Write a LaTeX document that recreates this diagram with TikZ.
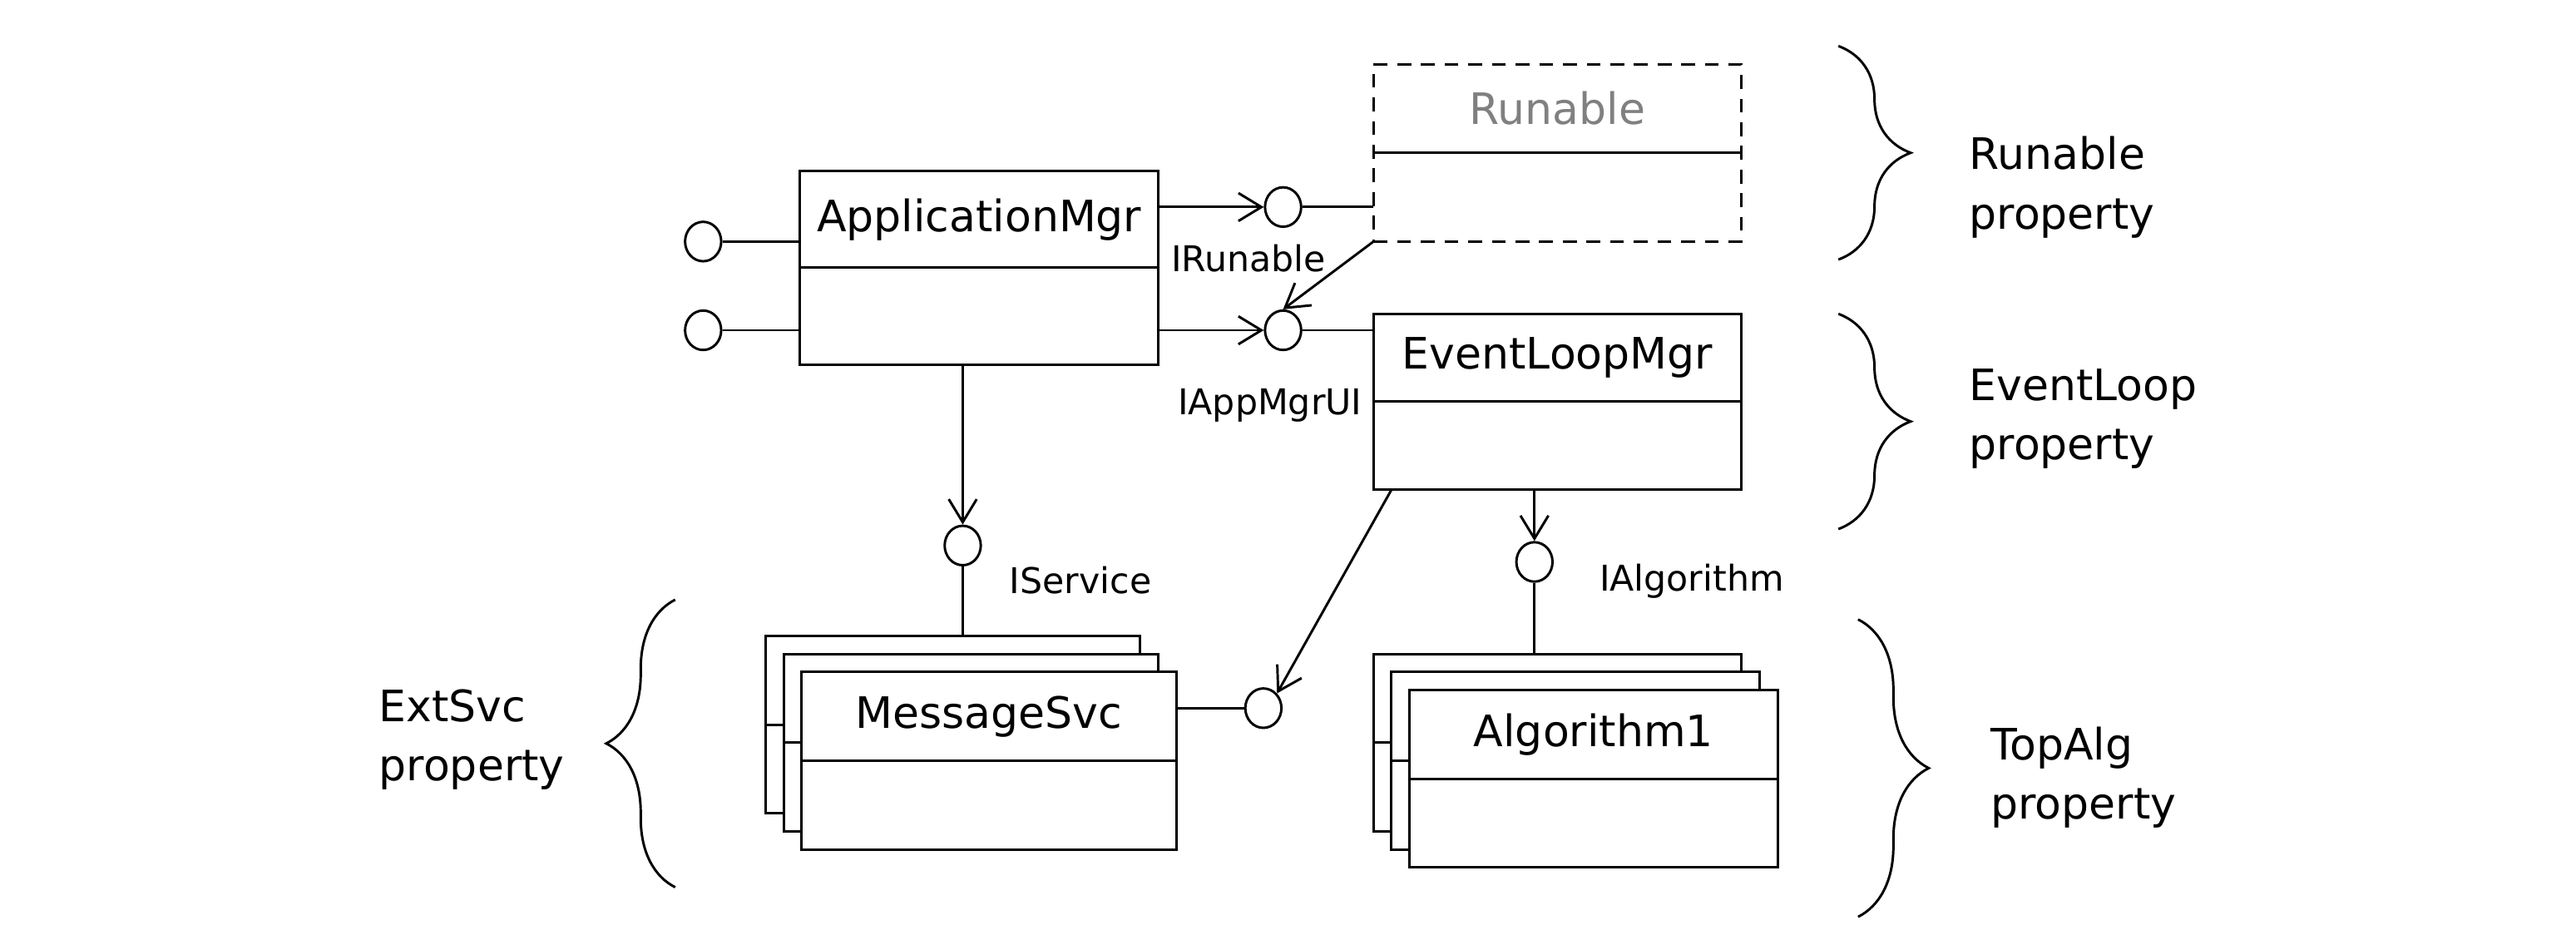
\documentclass[tikz,border=0pt]{standalone}
\usepackage{fontspec}
\setmainfont{DejaVu Sans}
\usetikzlibrary{positioning,calc,arrows.meta,shapes.geometric,decorations.pathreplacing}

\def\px{0.02cm}
\def\klasse#1#2#3#4#5#6#7{
\node[kasten,#1,minimum width=#5*\px,minimum height=#6*\px,anchor=north west]
	(#2) at (#3,#4) {};
\draw (#2.west) -- (#2.east);
\node (#2-t) at ($(#2.north)!0.5!(#2.center)$) {#7};
}

\begin{document}
\begin{tikzpicture}[x=\px,y=-\px,line width=0.85pt,
	>={Straight Barb[length=2.8mm,width=3.4mm]},
	font=\fontsize{15}{20.5}\selectfont,
	kasten/.style={draw,fill=white,inner sep=0pt,outer sep=0pt},
	lolli/.style={draw,fill=white,ellipse,inner sep=0pt,
		minimum width=22*\px,minimum height=24*\px},
	schild/.style={font=\fontsize{12.3}{14}\selectfont},
	eigen/.style={align=left,anchor=west,inner sep=0pt},
	klammer/.style={decorate,decoration={brace,amplitude=#1}}]
\useasboundingbox (0,0) rectangle (1568,569);
\klasse{}{app}{487}{104}{218}{118}{ApplicationMgr}
\klasse{dashed,dash pattern=on 4.8pt off 3.4pt}{run}{836}{39}{224}{108}{\color{gray}Runable}
\klasse{}{elm}{836}{191}{224}{107}{EventLoopMgr}
\klasse{}{msg3}{466}{387}{228}{108}{}
\klasse{}{msg2}{477}{398}{228}{108}{}
\klasse{}{msg1}{488}{409}{228}{108}{MessageSvc}
\klasse{}{alg3}{836}{398}{224}{108}{}
\klasse{}{alg2}{847}{409}{224}{108}{}
\klasse{}{alg1}{858}{420}{224}{108}{Algorithm1}

\node[lolli] (l1) at (428,147) {};
\node[lolli] (l2) at (428,201) {};
\node[lolli] (irun) at (781,126) {};
\node[lolli] (iapp) at (781,201) {};
\node[lolli] (iser) at (586,332) {};
\node[lolli] (ialg) at (934,342) {};
\node[lolli] (imsg) at (769,431) {};

\draw (l1) -- (l1 -| app.west);
\draw (l2) -- (l2 -| app.west);
\draw[->] (irun -| app.east) -- (irun);
\draw (irun) -- (irun -| run.west);
\draw[->] (iapp -| app.east) -- (iapp);
\draw (iapp) -- (iapp -| elm.west);
\draw[->] (run.south west) -- (iapp.north);
\draw[->] (iser |- app.south) -- (iser);
\draw (iser) -- (iser |- msg3.north);
\draw[->] (ialg |- elm.south) -- (ialg);
\draw (ialg) -- (ialg |- alg3.north);
\draw (imsg) -- (imsg -| msg1.east);
\draw[->] ([xshift=11*\px]elm.south west) -- (imsg.north east);

\node[schild] (lrun) at (760,157) {IRunable};
\node[schild] (lapp) at (773,247) {IAppMgrUI};
\node[schild,anchor=west] (lser) at (608,353) {IService};
\node[schild,anchor=west] (lalg) at (967,354) {IAlgorithm};

\node[eigen] (prun) at (1198,114) {Runable\\property};
\node[eigen] (pelm) at (1198,255) {EventLoop\\property};
\node[eigen] (palg) at (1211,473) {TopAlg\\property};
\node[eigen] (pext) at (230,450) {ExtSvc\\property};

\draw[klammer=0.88cm] (1119,28) -- (1119,158);
\draw[klammer=0.88cm] (1119,191) -- (1119,322);
\draw[klammer=0.86cm] (1131,377) -- (1131,558);
\draw[klammer=0.84cm] (411,540) -- (411,365);
\end{tikzpicture}
\end{document}
